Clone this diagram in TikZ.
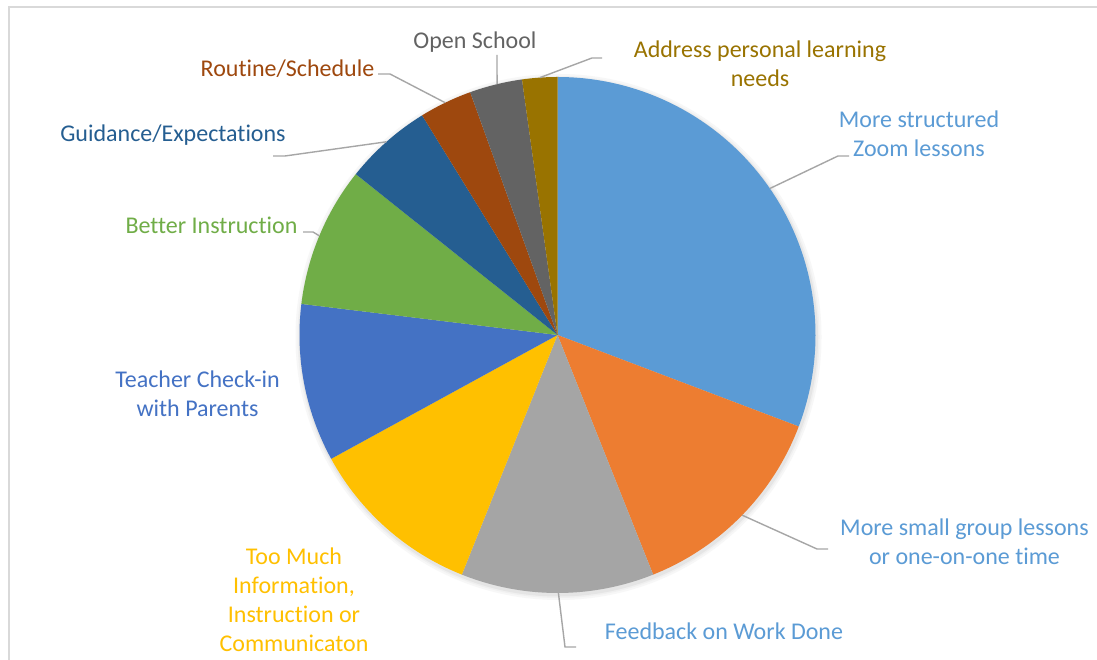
\documentclass[tikz,border=0pt]{standalone}
\usepackage{fontspec}
\setmainfont[Ligatures=NoCommon]{Carlito}
\usetikzlibrary{calc}
\definecolor{cA}{HTML}{5B9BD5}
\definecolor{cB}{HTML}{ED7D31}
\definecolor{cC}{HTML}{A5A5A5}
\definecolor{cD}{HTML}{FFC000}
\definecolor{cE}{HTML}{4472C4}
\definecolor{cF}{HTML}{70AD47}
\definecolor{cG}{HTML}{255E91}
\definecolor{cH}{HTML}{9E480E}
\definecolor{cI}{HTML}{636363}
\definecolor{cJ}{HTML}{997300}
\definecolor{leader}{HTML}{A6A6A6}
\definecolor{framec}{HTML}{D9D9D9}
\tikzset{
  lbl/.style={inner sep=0pt, anchor=base, align=center, font=\fontsize{24}{29}\selectfont},
  leaderline/.style={draw=leader, line width=1.4pt},
}
\begin{document}
\begin{tikzpicture}[x=1pt,y=1pt]
\useasboundingbox (0,0) rectangle (1097,660);
\fill[white] (0,0) rectangle (1097,660);
\draw[framec, line width=2pt] (9,-5) -- (9,653) -- (1105,653);
\coordinate (C) at (557.5,325);
% soft shadow
\fill[black!3] ($(C)+(1,-2)$) circle[radius=263];
\fill[black!6] ($(C)+(1,-2)$) circle[radius=261];
\fill[black!10] ($(C)+(1,-2)$) circle[radius=259.5];
% slices
\foreach \a/\b/\c in {90/-20.77/cA, -20.77/-68.24/cB, -68.24/-111.76/cC, -111.76/-151.32/cD, -151.32/-186.92/cE, -186.92/-218.57/cF, -218.57/-238.35/cG, -238.35/-250.22/cH, -250.22/-262.09/cI, -262.09/-270/cJ}
  \fill[\c] (C) -- ($(C)+(\a:258)$) arc[start angle=\a, end angle=\b, radius=258] -- cycle;
% labels (base anchor = baseline of last line)
\node[lbl, text=cI] (lOpen) at (475,611) {Open School};
\node[lbl, text=cJ] (lAddr) at (760,573) {Address personal learning\\needs};
\node[lbl, text=cA] (lZoom) at (919,503) {More structured\\Zoom lessons};
\node[lbl, text=cG] (lGuid) at (173,518) {Guidance/Expectations};
\node[lbl, text=cH] (lRout) at (287.5,583) {Routine/Schedule};
\node[lbl, text=cF] (lBett) at (211.5,426) {Better Instruction};
\node[lbl, text=cE] (lTeach) at (197.5,243) {Teacher Check-in\\with Parents};
\node[lbl, text=cD] (lToo) at (294,8) {Too Much\\Information,\\Instruction or\\Communicaton};
\node[lbl, text=cA] (lFeed) at (724,20) {Feedback on Work Done};
\node[lbl, text=cA] (lSmall) at (964.5,95) {More small group lessons\\or one-on-one time};
% leader line points
\coordinate (eZoom) at ($(C)+(34.6:258)$);
\coordinate (kZoom) at (838,504);
\coordinate (tZoom) at (849,504);
\coordinate (eSmall) at ($(C)+(-44.3:258)$);
\coordinate (kSmall) at (817,111);
\coordinate (tSmall) at (828,111);
\coordinate (eFeed) at ($(C)+(-89.8:258)$);
\coordinate (kFeed) at (565,13);
\coordinate (tFeed) at (576,13);
\coordinate (eGuid) at ($(C)+(131.5:258)$);
\coordinate (kGuid) at (285,504);
\coordinate (tGuid) at (273,504);
\coordinate (eBett) at ($(C)+(157.4:258)$);
\coordinate (kBett) at (313,428);
\coordinate (tBett) at (303,428);
\coordinate (eRout) at ($(C)+(115.8:258)$);
\coordinate (kRout) at (390,586);
\coordinate (tRout) at (378,586);
\coordinate (eOpen) at ($(C)+(103.55:258)$);
\coordinate (tOpen) at (497,605);
\coordinate (eAddr) at ($(C)+(93.9:258)$);
\coordinate (kAddr) at (592,602);
\coordinate (tAddr) at (602,602);
% leader lines
\draw[leaderline] (eZoom) -- (kZoom) -- (tZoom);
\draw[leaderline] (eSmall) -- (kSmall) -- (tSmall);
\draw[leaderline] (eFeed) -- (kFeed) -- (tFeed);
\draw[leaderline] (eGuid) -- (kGuid) -- (tGuid);
\draw[leaderline] (eBett) -- (kBett) -- (tBett);
\draw[leaderline] (eRout) -- (kRout) -- (tRout);
\draw[leaderline] (eOpen) -- (tOpen);
\draw[leaderline] (eAddr) -- (kAddr) -- (tAddr);
\end{tikzpicture}
\end{document}
